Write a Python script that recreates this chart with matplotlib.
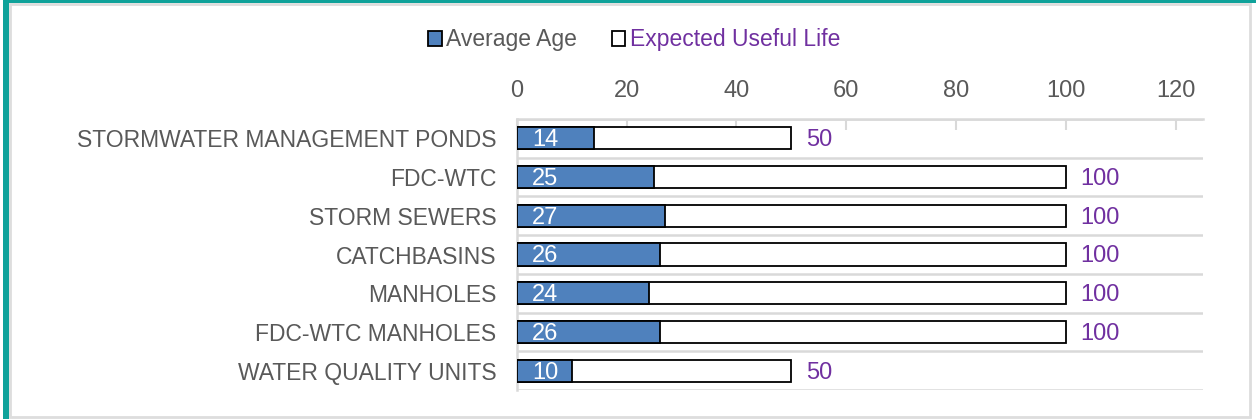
import matplotlib
matplotlib.use('Agg')
import matplotlib.pyplot as plt
import matplotlib.patches as mpatches

plt.rcParams['font.family'] = ['Liberation Sans', 'DejaVu Sans']

# data
categories = ['STORMWATER MANAGEMENT PONDS', 'FDC-WTC', 'STORM SEWERS', 'CATCHBASINS',
              'MANHOLES', 'FDC-WTC MANHOLES', 'WATER QUALITY UNITS']
avg_age = [14, 25, 27, 26, 24, 26, 10]
useful_life = [50, 100, 100, 100, 100, 100, 50]
xticks = [0, 20, 40, 60, 80, 100, 120]

blue = '#4F81BD'
purple = '#7030A0'
txt = '#595959'
grid = '#D9D9D9'
teal = '#0FA29A'
fs = 17

fig = plt.figure(figsize=(12.56, 4.19), dpi=100)
ax = fig.add_axes([0.4116, 0.0692, 0.5462, 0.6468])

ypos = list(range(len(categories)))
bh = 0.57
ax.barh(ypos, useful_life, height=bh, color='white', edgecolor='black', linewidth=1.3, zorder=3)
ax.barh(ypos, avg_age, height=bh, color=blue, edgecolor='black', linewidth=1.3, zorder=4)

for y, a, u in zip(ypos, avg_age, useful_life):
    ax.text(2.7, y + 0.05, str(a), color='white', fontsize=fs, ha='left', va='center', zorder=5)
    ax.text(u + 2.7, y + 0.05, str(u), color=purple, fontsize=fs, ha='left', va='center', zorder=5)

# category separator lines
for b in range(len(categories) + 1):
    ax.axhline(b - 0.5, color=grid, lw=1.8, zorder=1)

ax.set_xlim(0, 125)
ax.set_ylim(len(categories) - 0.5, -0.5)
ax.set_yticks(ypos)
ax.set_yticklabels(categories, fontsize=16.5, color=txt)
ax.set_xticks(xticks)
ax.xaxis.tick_top()
ax.tick_params(axis='x', direction='in', length=8, width=1.5, color=grid,
               labelsize=fs, labelcolor=txt, pad=12)
ax.tick_params(axis='y', length=0, pad=15)
for s in ['right', 'bottom']:
    ax.spines[s].set_visible(False)
for s in ['top', 'left']:
    ax.spines[s].set_color(grid)
    ax.spines[s].set_linewidth(1.8)

handles = [mpatches.Patch(facecolor=blue, edgecolor='black', linewidth=1.3, label='Average Age'),
           mpatches.Patch(facecolor='white', edgecolor='black', linewidth=1.3,
                          label='Expected Useful Life')]
leg = fig.legend(handles=handles, loc='center', bbox_to_anchor=(0.505, 0.905), ncol=2,
                 frameon=False, fontsize=16.5, handlelength=0.6, handleheight=0.6,
                 handletextpad=0.2, columnspacing=1.5)
leg.get_texts()[0].set_color(txt)
leg.get_texts()[1].set_color(purple)

# frame
fig.patches.append(mpatches.Rectangle((10 / 1256, 0.004), 1240 / 1256, 1 - 4 / 419 - 0.004,
                                      transform=fig.transFigure, fill=False,
                                      edgecolor='#DDDDDD', lw=2))
fig.patches.append(mpatches.Rectangle((3 / 1256, 0), 6 / 1256, 1, transform=fig.transFigure,
                                      color=teal, lw=0))
fig.patches.append(mpatches.Rectangle((3 / 1256, 1 - 3 / 419), 1 - 3 / 1256, 3 / 419,
                                      transform=fig.transFigure, color=teal, lw=0))

fig.savefig('out.png', dpi=100)
